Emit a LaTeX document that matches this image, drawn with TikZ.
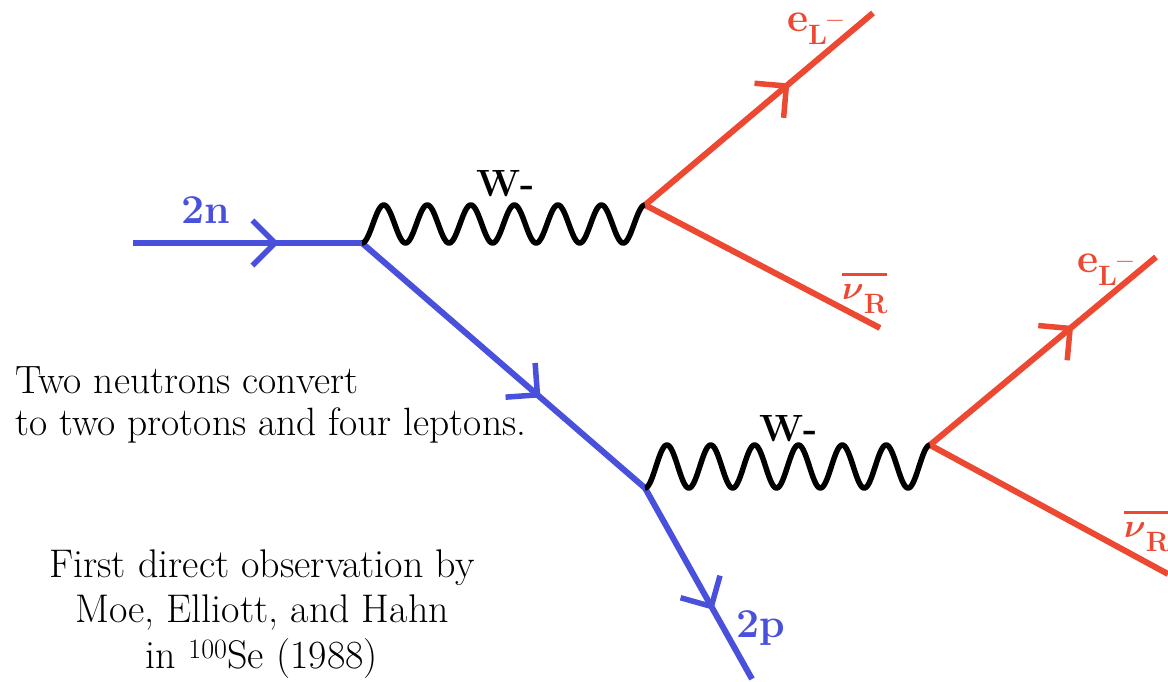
\documentclass[tikz,border=0pt]{standalone}
\usepackage{amsmath}
\usepackage{graphicx}
\usepackage{fontspec}
\usetikzlibrary{decorations.markings,calc}
\definecolor{fblue}{RGB}{72,80,220}
\definecolor{fred}{RGB}{236,72,50}
\newcommand{\subfnt}{\fontsize{28}{28}\selectfont\bfseries}
\newcommand{\eLminus}{e\raisebox{-13pt}{\subfnt L}\raisebox{3pt}{\subfnt –}}
\newcommand{\nuR}{\vbox{\hrule height 3pt\kern 8pt\hbox{\scalebox{1.35}{$\boldsymbol{\nu}$}\raisebox{-14pt}{\subfnt R}}}}
\begin{document}
\begin{tikzpicture}[x=1pt,y=-1pt,
  fermion/.style={draw=#1, line width=6pt, postaction=decorate,
    decoration={markings, mark=at position 0.62 with {\draw[draw=#1, line width=5.5pt, line join=miter] (-22.6,22.6) -- (0,0) -- (-22.6,-22.6);}}},
  leg/.style={draw=#1, line width=6pt},
  wave/.style={draw=black, line width=5.5pt, line join=round},
  lbl/.style={inner sep=0pt, font=\fontsize{41}{41}\selectfont\bfseries},
  wlbl/.style={inner sep=0pt, font=\fontsize{38}{38}\selectfont\bfseries},
  txt/.style={inner sep=0pt, font=\fontsize{39.5}{42}\selectfont},
  txtb/.style={inner sep=0pt, font=\fontsize{40}{45}\selectfont}]
\useasboundingbox (0,0) rectangle (1168,681);
\fill[white] (0,0) rectangle (1168,681);
% vertices
\coordinate (A) at (133,243);
\coordinate (V1) at (362,243);
\coordinate (V2) at ($(V1)+(283,-38)$);
\coordinate (V3) at (645,488);
\coordinate (V4) at ($(V3)+(285,-43)$);
\coordinate (E1) at (873,13);
\coordinate (N1) at (880,328);
\coordinate (E2) at (1156,257);
\coordinate (N2) at (1168,574);
\coordinate (P) at (752,679);
% blue fermion lines
\draw[fermion=fblue] (A) -- (V1);
\draw[fermion=fblue] (V1) -- (V3);
\draw[fermion=fblue] (V3) -- (P);
% red leptons
\draw[fermion=fred] (V2) -- (E1);
\draw[leg=fred] (V2) -- (N1);
\draw[fermion=fred] (V4) -- (E2);
\draw[leg=fred] (V4) -- (N2);
% W bosons
\draw[wave, shift={(V1)}] plot[domain=0:6.5, samples=400, smooth] ({43.538*\x}, {-19*(1-cos(360*\x))});
\draw[wave, shift={(V3)}] plot[domain=0:6.5, samples=400, smooth] ({43.846*\x}, {-21.5*(1-cos(360*\x))});
% labels
\node[lbl, text=fblue, anchor=base west] (l2n) at (181,223) {2n};
\node[wlbl, anchor=base west] (w1) at (476,196) {W-};
\node[wlbl, anchor=base west] (w2) at (759,441) {W-};
\node[lbl, text=fred, anchor=base west] (e1) at (787,31) {\eLminus};
\node[lbl, text=fred, anchor=base west] (e2) at (1077,272) {\eLminus};
\node[lbl, text=fred, anchor=base west] (nu1) at (842,299) {\nuR};
\node[lbl, text=fred, anchor=base west] (nu2) at (1124,537) {\nuR};
\node[lbl, text=fblue, anchor=base west] (l2p) at (736,637) {2p};
% texts
\node[txt, anchor=base west] (t1) at (15,393) {Two neutrons convert};
\node[txt, anchor=base west] (t2) at (15,435) {to two protons and four leptons.};
\node[txtb, anchor=base] (f1) at (262,577) {First direct observation by};
\node[txtb, anchor=base] (f2) at (262,622) {Moe, Elliott, and Hahn};
\node[txtb, anchor=base] (f3) at (262,668) {in \textsuperscript{100}Se (1988)};
\end{tikzpicture}
\end{document}
